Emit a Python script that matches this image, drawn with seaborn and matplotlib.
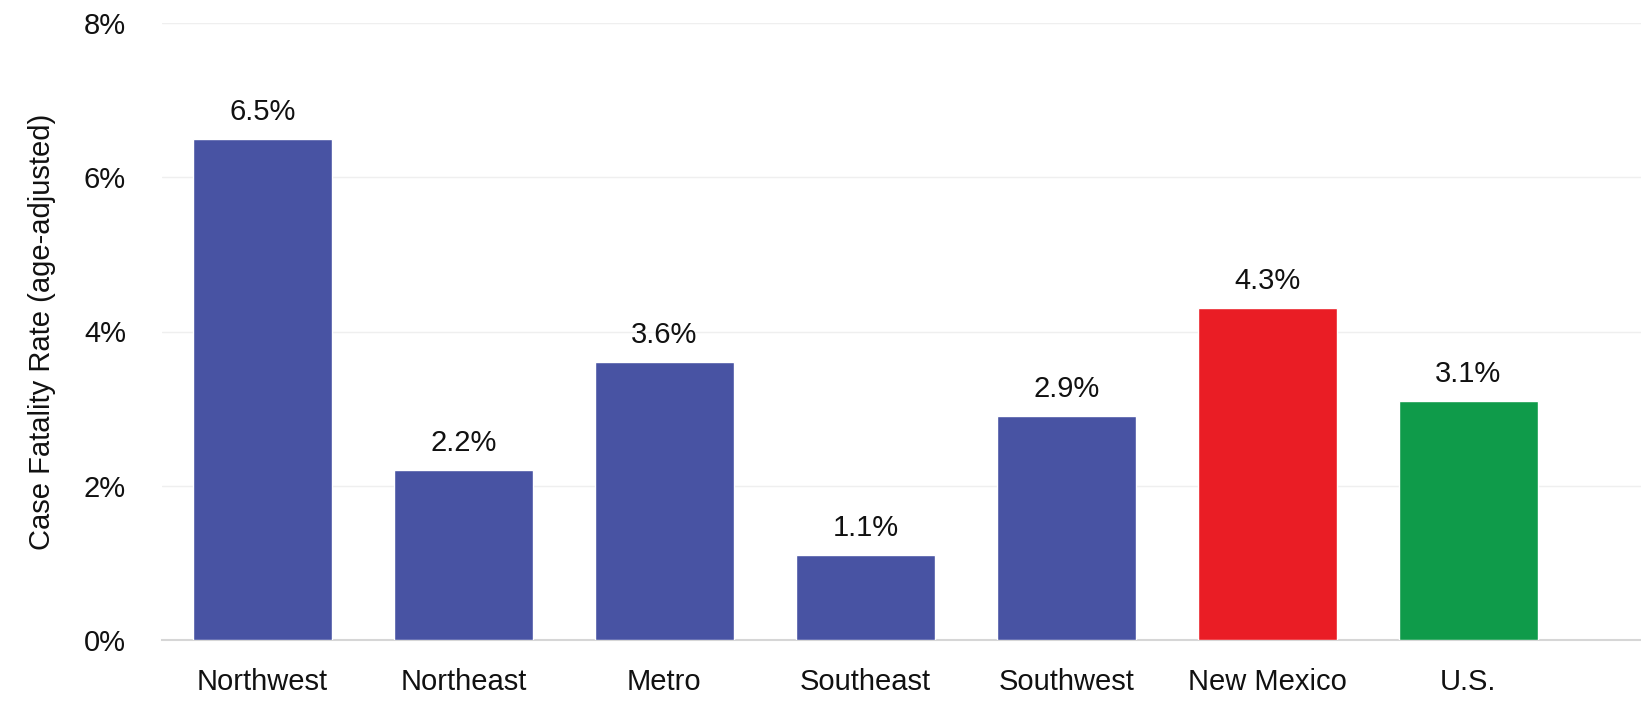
import matplotlib
matplotlib.use("Agg")
import matplotlib.pyplot as plt
import seaborn as sns
import pandas as pd

regions = ["Northwest", "Northeast", "Metro", "Southeast", "Southwest", "New Mexico", "U.S."]
rates = [6.5, 2.2, 3.6, 1.1, 2.9, 4.3, 3.1]
bar_colors = ["#4853A3", "#4853A3", "#4853A3", "#4853A3", "#4853A3", "#EA1D25", "#0F9B4A"]

df = pd.DataFrame({"Region": regions, "Rate": rates})

sns.set_style("white")
plt.rcParams['font.family'] = ['Liberation Sans', 'DejaVu Sans']

fig = plt.figure(figsize=(16.41, 7.23), dpi=100)
ax = fig.add_axes([162/1641, 1 - 640/723, (1641-162)/1641, (640-23)/723])

sns.barplot(data=df, x="Region", y="Rate", hue="Region", palette=bar_colors,
            width=0.69, legend=False, ax=ax, saturation=1, zorder=3)

# value labels above bars
for i, v in enumerate(rates):
    ax.text(i, v + 0.17, f"{v:.1f}%", ha="center", va="bottom", fontsize=21, color="#111111")

ax.set_ylim(0, 8)
ax.set_xlim(-0.5, 6.86)
ax.set_yticks([0, 2, 4, 6, 8])
ax.set_yticklabels(["0%", "2%", "4%", "6%", "8%"])
ax.yaxis.grid(True, color="#efefef", linewidth=1, zorder=0)
ax.set_axisbelow(True)
for s in ["top", "right", "left"]:
    ax.spines[s].set_visible(False)
ax.spines["bottom"].set_color("#d6d6d6")
ax.spines["bottom"].set_linewidth(1.5)
ax.tick_params(axis="both", length=0, labelsize=21, colors="#111111")
ax.tick_params(axis="y", pad=26)
ax.tick_params(axis="x", pad=20)
ax.set_xlabel("")
ax.set_ylabel("Case Fatality Rate (age-adjusted)", fontsize=21, color="#111111", labelpad=20)

fig.savefig("out.png", dpi=100)
